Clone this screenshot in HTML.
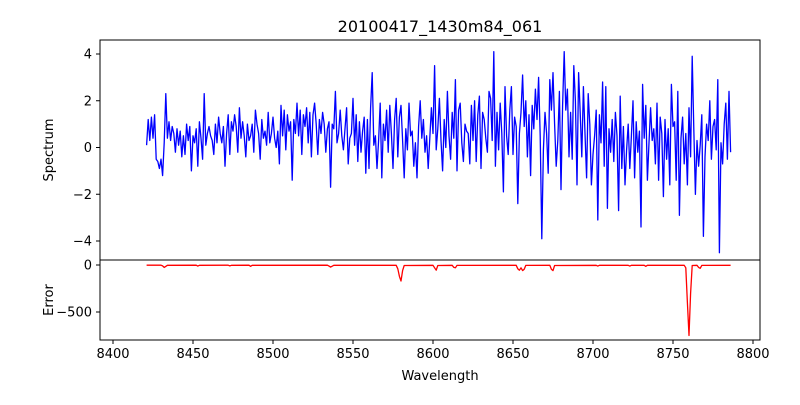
<!DOCTYPE html>
<html><head><meta charset="utf-8"><style>
body{margin:0;background:#fff;font-family:"Liberation Sans","DejaVu Sans",sans-serif}
text{font-family:"DejaVu Sans","Liberation Sans",sans-serif}
</style></head><body>
<svg id="chart" width="800" height="400">
<rect width="800" height="400" fill="#fff"/>
<text x="440" y="32" font-size="16" text-anchor="middle">20100417_1430m84_061</text>
<g id="topPanel"></g>
<g id="botPanel"></g>
<text x="440" y="380" font-size="13" text-anchor="middle">Wavelength</text>
<text transform="translate(53,150) rotate(-90)" font-size="13" text-anchor="middle">Spectrum</text>
<text transform="translate(53,300) rotate(-90)" font-size="13" text-anchor="middle">Error</text>
</svg>
<script>
const wavStart = 8421;
const wavEnd = 8786;
const spectrum = [0.1,1.2,0.3,1.3,0.4,1.4,-0.5,-0.6,-0.9,-0.5,-1.2,0.2,2.3,0.4,1.1,0.3,0.9,0.6,-0.2,0.8,0.1,0.7,-0.4,0.5,-0.3,1.0,0.3,0.9,-1.0,0.5,0.2,0.8,-0.8,1.1,0.4,-0.5,2.3,0.1,0.6,0.9,0.5,0.3,-0.3,1.0,0.2,1.3,0.6,0.2,0.9,-0.8,0.6,1.4,-0.3,1.1,0.7,1.4,0.9,-0.2,1.7,0.4,1.1,0.5,-0.4,1.0,0.3,0.5,1.0,-0.2,1.6,1.0,0.6,-0.5,1.2,0.4,0.7,0.1,1.5,0.2,0.6,1.3,0.4,0.0,0.7,-0.7,1.8,0.5,1.6,-0.1,1.4,0.7,1.1,-1.4,1.2,0.6,1.9,0.5,1.6,-0.3,1.4,0.9,1.7,0.2,1.5,-0.4,1.4,1.9,1.0,-0.3,1.2,0.6,1.5,1.0,-0.2,0.8,1.1,-1.7,1.0,0.8,2.4,0.2,0.6,1.6,0.5,-0.1,0.8,1.7,-0.7,0.4,0.6,2.1,0.1,1.4,-0.6,1.1,-0.2,0.7,1.3,-1.1,1.2,-0.9,1.7,3.2,0.1,0.5,-0.9,0.3,1.9,-1.3,1.0,0.3,1.6,-0.2,1.8,0.6,-0.9,1.2,2.1,-0.4,1.3,1.8,0.3,-1.3,0.8,-0.1,1.9,0.5,0.7,-0.8,0.2,-1.3,0.9,2.0,0.4,1.2,-0.2,0.5,-0.9,0.4,1.7,0.6,3.5,-0.1,0.8,2.1,0.3,-1.0,1.2,0.0,2.4,0.5,-0.5,1.5,0.4,2.9,-1.0,1.6,1.9,0.2,-0.6,1.0,0.7,0.6,-0.7,1.8,0.3,2.0,-0.6,1.4,2.2,-0.9,1.5,1.2,0.4,-0.2,2.4,2.1,0.3,4.1,-0.8,1.5,-0.1,1.9,0.6,-1.9,2.6,0.5,-0.3,1.6,2.6,-0.3,1.3,0.9,-2.4,0.6,1.5,3.1,0.9,2.0,-0.4,1.4,-1.2,1.8,0.8,2.5,1.2,3.0,0.5,-3.9,-0.1,1.5,0.6,-1.1,2.9,1.6,3.2,1.0,-0.8,0.3,2.4,-1.8,1.8,4.1,1.6,2.5,-0.4,1.5,-0.5,3.5,2.0,-1.6,3.2,1.5,-0.4,2.6,0.6,-1.3,2.3,1.0,-1.6,-0.3,0.5,1.6,-3.1,1.4,0.2,2.8,-0.8,2.6,-2.6,0.8,-0.2,1.2,-0.6,1.5,0.5,-2.7,2.2,-0.9,0.9,-1.6,-0.1,1.0,-0.9,0.5,2.0,-1.3,1.1,-0.2,0.7,-3.4,2.7,0.4,1.8,-1.4,0.2,1.7,0.3,0.8,-0.7,1.9,-1.4,1.3,0.6,-2.1,1.2,-0.5,0.8,-1.6,2.7,0.9,1.1,-1.4,2.4,-2.9,0.4,1.3,-0.7,0.6,-1.6,1.7,-0.4,3.9,0.8,-2.0,0.3,-0.8,0.1,1.4,-3.8,-0.4,1.0,0.3,2.0,-0.5,0.9,1.2,-0.1,2.9,-4.5,0.2,-0.7,1.0,1.9,-0.5,2.4,-0.2];
const errWaves = [8421,8430,8431,8432,8434,8452,8453,8454,8472,8473,8474,8485,8486,8487,8534,8535,8536,8538,8577,8578,8579,8580,8581,8582,8600,8601,8602,8603,8612,8613,8614,8615,8652,8653,8654,8655,8656,8657,8658,8673,8674,8675,8676,8702,8703,8704,8722,8723,8724,8732,8733,8734,8757,8758,8759,8760,8761,8762,8765,8766,8767,8768,8786];
const errVals = [-2,-2,-10,-25,-3,-2,-12,-3,-2,-10,-3,-2,-14,-3,-2,-12,-22,-3,-3,-40,-120,-170,-60,-5,-3,-30,-55,-5,-3,-25,-30,-4,-3,-40,-55,-30,-60,-45,-4,-3,-45,-60,-5,-3,-12,-3,-3,-12,-3,-3,-14,-3,-3,-30,-400,-750,-300,-5,-3,-25,-35,-4,-3];
const topTicks = [-4,-2,0,2,4];
const botTicks = [-500,0];
const xTicks = [8400,8450,8500,8550,8600,8650,8700,8750,8800];

const NS='http://www.w3.org/2000/svg';
const L=100,R=760,T1=40,B1=260,B2=340;
const xs=w=>113+(w-8400)*1.6;
const ys1=v=>147.5-v*23.375;
const ys2=v=>265-v*0.094;
function mk(tag,attrs,parent){const e=document.createElementNS(NS,tag);for(const k in attrs)e.setAttribute(k,attrs[k]);parent.appendChild(e);return e;}
const topG=document.getElementById('topPanel'),botG=document.getElementById('botPanel');

let pts=spectrum.map((v,i)=>xs(wavStart+i*(wavEnd-wavStart)/(spectrum.length-1)).toFixed(1)+','+ys1(v).toFixed(1)).join(' ');
const sl=mk('polyline',{points:pts,fill:'none',stroke:'#0000ff','stroke-width':1.3,'stroke-linejoin':'round'},topG);


let pts2=errWaves.map((w,i)=>xs(w).toFixed(1)+','+ys2(errVals[i]).toFixed(1)).join(' ');
const el=mk('polyline',{points:pts2,fill:'none',stroke:'#ff0000','stroke-width':1.3,'stroke-linejoin':'round'},botG);



const f1=mk('rect',{x:L,y:T1,width:R-L,height:B1-T1,fill:'none',stroke:'#000','stroke-width':1},topG);


const f2=mk('rect',{x:L,y:B1,width:R-L,height:B2-B1,fill:'none',stroke:'#000','stroke-width':1},botG);



topTicks.forEach(t=>{const y=ys1(t);mk('line',{x1:L-4,x2:L,y1:y,y2:y,stroke:'#000'},topG);
const tx=mk('text',{x:L-8,y:y+4.5,'font-size':13,'text-anchor':'end'},topG);tx.textContent=t<0?'\u2212'+(-t):t;

});
botTicks.forEach(t=>{const y=ys2(t);mk('line',{x1:L-4,x2:L,y1:y,y2:y,stroke:'#000'},botG);
const tx=mk('text',{x:L-8,y:y+4.5,'font-size':13,'text-anchor':'end'},botG);tx.textContent=t<0?'\u2212'+(-t):t;

});
xTicks.forEach(t=>{const x=xs(t);mk('line',{x1:x,x2:x,y1:B2,y2:B2+4,stroke:'#000'},botG);
const tx=mk('text',{x:x,y:B2+18,'font-size':13,'text-anchor':'middle'},botG);tx.textContent=t;

});
</script>
</body></html>
